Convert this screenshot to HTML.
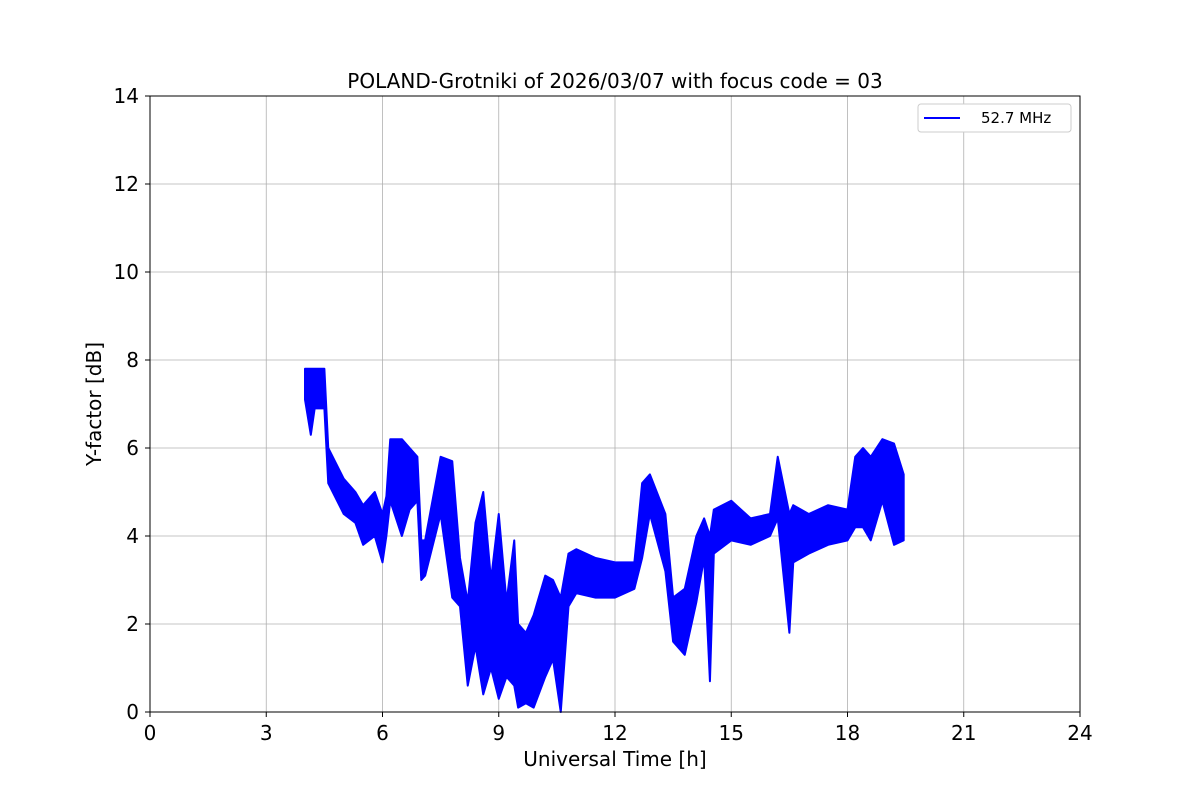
<!DOCTYPE html>
<html><head><meta charset="utf-8"><style>
body{margin:0;background:#fff;}
svg text{font-family:"DejaVu Sans","Liberation Sans",sans-serif;}
</style></head><body>
<svg id="chart" width="1200" height="800" xmlns="http://www.w3.org/2000/svg">
<rect width="1200" height="800" fill="#fff"/>
<g id="grid"></g>
<g id="series"></g>
<rect x="150" y="96" width="930" height="616" fill="none" stroke="#000" stroke-width="1"/>
<g id="ticks"></g>
<text x="615" y="88" font-size="20" text-anchor="middle">POLAND-Grotniki of 2026/03/07 with focus code = 03</text>
<text x="615" y="766" font-size="20" text-anchor="middle">Universal Time [h]</text>
<text transform="translate(101,404) rotate(-90)" font-size="20" text-anchor="middle">Y-factor [dB]</text>
<g>
<rect x="918" y="104" width="153" height="28" rx="3" fill="#fff" stroke="#ccc"/>
<line x1="924" y1="118" x2="960" y2="118" stroke="#0000ff" stroke-width="2"/>
<text x="981" y="123" font-size="15">52.7 MHz</text>
</g>
</svg>
<script>
const xTicks=[0,3,6,9,12,15,18,21,24];
const yTicks=[0,2,4,6,8,10,12,14];
const times=[4.0,4.15,4.25,4.5,4.6,5.0,5.3,5.5,5.8,6.0,6.1,6.2,6.5,6.7,6.9,7.0,7.1,7.5,7.8,8.0,8.2,8.4,8.6,8.8,9.0,9.2,9.4,9.5,9.7,9.9,10.2,10.4,10.6,10.8,11.0,11.5,12.0,12.5,12.7,12.9,13.3,13.5,13.8,14.1,14.3,14.45,14.55,15.0,15.5,16.0,16.2,16.5,16.6,17.0,17.5,18.0,18.2,18.4,18.6,18.9,19.2,19.45];
const lowVals=[7.1,6.3,6.9,6.9,5.2,4.5,4.3,3.8,4.0,3.4,4.0,4.8,4.0,4.6,4.8,3.0,3.1,4.5,2.6,2.4,0.6,1.5,0.4,1.0,0.3,0.8,0.6,0.1,0.2,0.1,0.8,1.2,0.0,2.4,2.7,2.6,2.6,2.8,3.5,4.5,3.2,1.6,1.3,2.5,3.5,0.7,3.6,3.9,3.8,4.0,4.4,1.8,3.4,3.6,3.8,3.9,4.2,4.2,3.9,4.8,3.8,3.9];
const highVals=[7.8,7.8,7.8,7.8,6.0,5.3,5.0,4.7,5.0,4.5,4.9,6.2,6.2,6.0,5.8,3.9,3.9,5.8,5.7,3.5,2.5,4.3,5.0,3.0,4.5,2.5,3.9,2.0,1.8,2.2,3.1,3.0,2.6,3.6,3.7,3.5,3.4,3.4,5.2,5.4,4.5,2.6,2.8,4.0,4.4,4.0,4.6,4.8,4.4,4.5,5.8,4.5,4.7,4.5,4.7,4.6,5.8,6.0,5.8,6.2,6.1,5.4];
const X=t=>150+t/24*930, Y=v=>712-v/14*616;
const ns="http://www.w3.org/2000/svg";
const grid=document.getElementById('grid'), ticks=document.getElementById('ticks'), series=document.getElementById('series');
function mk(tag,attrs,parent){const e=document.createElementNS(ns,tag);for(const k in attrs)e.setAttribute(k,attrs[k]);parent.appendChild(e);return e;}
xTicks.forEach(t=>{
 const g=mk('line',{x1:X(t),x2:X(t),y1:96,y2:712,stroke:'#b0b0b0','stroke-width':0.8},grid);
 
 
 const tk=mk('line',{x1:X(t),x2:X(t),y1:712,y2:717,stroke:'#000'},ticks);
 
 
 const lb=mk('text',{x:X(t),y:740,'font-size':20,'text-anchor':'middle'},ticks);lb.textContent=t;
 
 
});
yTicks.forEach(v=>{
 const g=mk('line',{x1:150,x2:1080,y1:Y(v),y2:Y(v),stroke:'#b0b0b0','stroke-width':0.8},grid);
 
 
 const tk=mk('line',{x1:145,x2:150,y1:Y(v),y2:Y(v),stroke:'#000'},ticks);
 
 
 const lb=mk('text',{x:139,y:Y(v)+7,'font-size':20,'text-anchor':'end'},ticks);lb.textContent=v;
 
 
});
let d='';
for(let i=0;i<times.length;i++){d+=(i?'L':'M')+X(times[i])+','+Y(highVals[i]);}
for(let i=times.length-1;i>=0;i--){d+='L'+X(times[i])+','+Y(lowVals[i]);}
d+='Z';
const p=mk('path',{d:d,fill:'#0000ff',stroke:'#0000ff','stroke-width':2,'stroke-linejoin':'round'},series);


</script>
</body></html>
